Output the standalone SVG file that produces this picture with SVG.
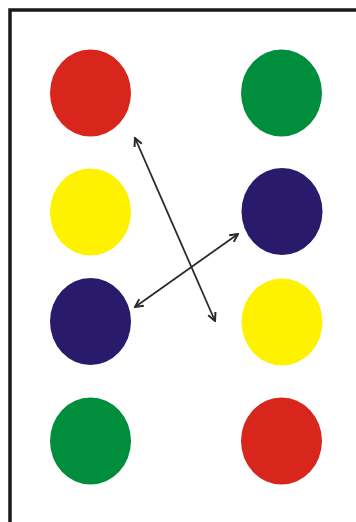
<svg xmlns="http://www.w3.org/2000/svg" width="356" height="522" viewBox="0 0 356 522">
<style>
.red{fill:#D8261C}.green{fill:#008D3C}.yellow{fill:#FFF200}.navy{fill:#291A6C}
.conn{stroke:#2a2a2a;stroke-width:1.8;fill:none}
</style>
<defs>
<marker id="ah" viewBox="0 0 10 10" refX="9" refY="5" markerWidth="10" markerHeight="10" markerUnits="userSpaceOnUse" orient="auto-start-reverse">
<path d="M1,1 L9,5 L1,9" fill="none" stroke="#2a2a2a" stroke-width="2"/>
</marker>
</defs>
<rect width="356" height="522" fill="#fff"/>
<path d="M10,522 V10 H356" fill="none" stroke="#1a1a1a" stroke-width="3.5"/>
<g id="n1"><ellipse class="red" cx="90.5" cy="93" rx="40.5" ry="43.5"/></g>
<g id="n2"><ellipse class="yellow" cx="90.5" cy="212" rx="40.5" ry="43.5"/></g>
<g id="n3"><ellipse class="navy" cx="90.5" cy="321.5" rx="40.5" ry="43.5"/></g>
<g id="n4"><ellipse class="green" cx="90.5" cy="441" rx="40.5" ry="43.5"/></g>
<g id="n5"><ellipse class="green" cx="281.5" cy="93" rx="40.5" ry="43.5"/></g>
<g id="n6"><ellipse class="navy" cx="282" cy="211.5" rx="40.5" ry="43.5"/></g>
<g id="n7"><ellipse class="yellow" cx="282" cy="322" rx="40.5" ry="43.5"/></g>
<g id="n8"><ellipse class="red" cx="281.5" cy="441" rx="40.5" ry="43.5"/></g>
<g id="connectors">
<line class="conn" x1="135" y1="138" x2="215" y2="321" marker-start="url(#ah)" marker-end="url(#ah)"/>
<line class="conn" x1="135" y1="307" x2="238" y2="234" marker-start="url(#ah)" marker-end="url(#ah)"/>
</g>
</svg>
